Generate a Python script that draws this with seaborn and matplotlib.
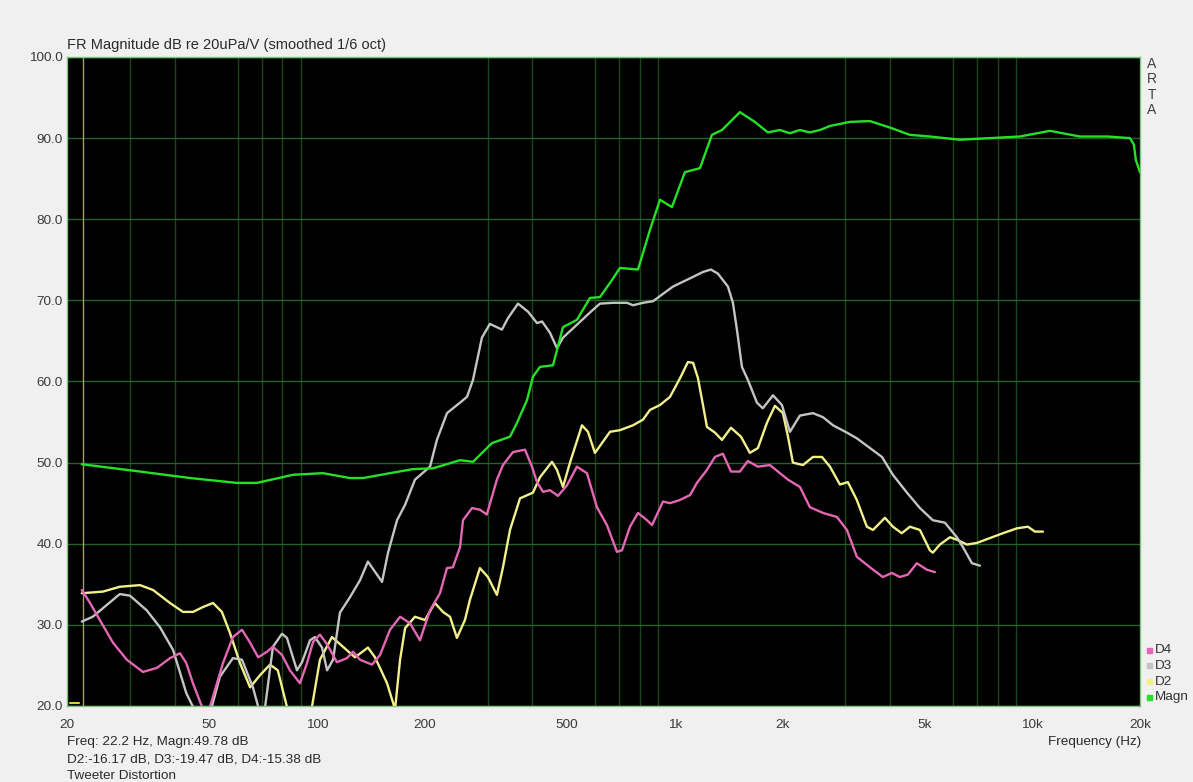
import pandas as pd
import matplotlib
matplotlib.use("Agg")
import matplotlib.pyplot as plt
import seaborn as sns
from matplotlib.ticker import FixedLocator, NullFormatter
from matplotlib.patches import Rectangle

sns.set_style("white")
plt.rcParams['font.family'] = ['Liberation Sans', 'DejaVu Sans']

# ---------------- measured curves (frequency in Hz, level in dB) ----------------
magn_hz = [22.0, 32.0, 44.2, 59.7, 67.9, 85.7, 103.9, 123.6, 134.7, 160.0,
           185.5, 211.0, 251.2, 273.0, 308.3, 346.4, 362.4, 386.5, 401.7, 420.2,
           456.9, 487.2, 533.0, 579.6, 618.1, 667.8, 703.1, 789.7, 853.2, 909.7,
           982.7, 1068, 1177, 1271, 1356, 1522, 1676, 1822, 1969, 2100,
           2240, 2389, 2548, 2718, 3089, 3515, 3999, 4548, 5169, 6274,
           7613, 9229, 11202, 13563, 16261, 18749, 19226, 19472, 20000]
magn_db = [49.8, 48.9, 48.1, 47.5, 47.5, 48.5, 48.7, 48.1, 48.1, 48.7,
           49.2, 49.3, 50.3, 50.1, 52.4, 53.2, 54.9, 57.7, 60.6, 61.8,
           62.0, 66.7, 67.6, 70.3, 70.4, 72.5, 74.0, 73.8, 78.7, 82.4,
           81.5, 85.8, 86.3, 90.4, 91.0, 93.2, 92.0, 90.7, 91.0, 90.6,
           91.0, 90.7, 91.0, 91.5, 92.0, 92.1, 91.3, 90.4, 90.2, 89.8,
           90.0, 90.2, 90.9, 90.2, 90.2, 90.0, 89.2, 87.3, 85.8]

d3_hz = [22.0, 23.6, 28.1, 30.0, 33.4, 36.4, 39.6, 43.1, 45.0, 47.7,
         50.8, 53.5, 58.2, 61.7, 66.2, 68.5, 70.3, 71.6, 75.3, 79.8,
         82.4, 87.9, 90.8, 95.6, 98.7, 103.3, 106.7, 110.9, 115.9, 123.6,
         131.9, 138.8, 152.0, 158.0, 167.4, 176.3, 187.9, 207.0, 216.4, 230.9,
         251.2, 262.6, 273.0, 289.1, 304.4, 328.9, 341.8, 364.7, 389.2, 412.2,
         425.9, 448.2, 468.8, 487.2, 533.0, 579.6, 618.1, 672.2, 735.8, 764.6,
         815.6, 870.1, 927.5, 989.1, 1055, 1126, 1200, 1263, 1321, 1409,
         1455, 1493, 1542, 1602, 1698, 1764, 1883, 1995, 2100, 2240,
         2436, 2598, 2772, 3031, 3230, 3515, 3798, 4075, 4461, 4850,
         5270, 5696, 6153, 6396, 6778, 7136]
d3_db = [30.4, 31.0, 33.8, 33.6, 31.8, 29.7, 26.9, 21.6, 19.9, 17.5,
         19.9, 23.6, 25.9, 25.7, 22.3, 19.9, 18.5, 19.9, 27.3, 28.9,
         28.4, 24.4, 25.4, 28.1, 28.5, 27.2, 24.4, 25.7, 31.5, 33.4,
         35.5, 37.8, 35.3, 38.9, 42.9, 44.8, 47.9, 49.5, 52.8, 56.1,
         57.4, 58.1, 60.2, 65.4, 67.1, 66.4, 67.8, 69.6, 68.6, 67.2,
         67.4, 66.0, 64.1, 65.4, 67.0, 68.5, 69.6, 69.7, 69.7, 69.4,
         69.7, 69.9, 70.8, 71.7, 72.3, 72.9, 73.5, 73.8, 73.3, 71.7,
         69.7, 66.4, 61.8, 60.2, 57.4, 56.7, 58.3, 57.1, 53.8, 55.8,
         56.1, 55.6, 54.6, 53.7, 53.0, 51.8, 50.7, 48.5, 46.3, 44.4,
         42.9, 42.6, 40.8, 39.6, 37.6, 37.3]

d2_hz = [22.0, 25.2, 28.1, 32.0, 34.8, 38.8, 42.2, 45.0, 48.0, 51.2,
         54.2, 57.1, 60.9, 65.0, 69.3, 73.9, 77.7, 82.4, 88.5, 96.8,
         101.9, 110.1, 118.2, 127.7, 138.8, 145.3, 157.0, 165.3, 170.7, 176.3,
         187.9, 200.4, 213.6, 224.9, 235.4, 246.2, 259.2, 267.7, 285.4, 300.5,
         318.4, 331.1, 346.4, 369.5, 401.7, 420.2, 453.9, 468.8, 487.2, 509.7,
         550.6, 572.2, 598.5, 626.1, 659.3, 703.1, 764.6, 815.6, 853.2, 909.7,
         970.1, 1035, 1089, 1126, 1162, 1200, 1231, 1296, 1356, 1437,
         1532, 1623, 1709, 1811, 1907, 2008, 2074, 2141, 2284, 2436,
         2581, 2718, 2897, 3050, 3230, 3446, 3585, 3872, 4075, 4314,
         4548, 4850, 5169, 5270, 5515, 5883, 6153, 6563, 6997, 7613,
         8275, 9057, 9720, 10169, 10706]
d2_db = [33.9, 34.1, 34.7, 34.9, 34.3, 32.7, 31.6, 31.6, 32.2, 32.7,
         31.6, 29.0, 25.3, 22.3, 23.8, 25.1, 24.4, 19.9, 16.5, 19.9,
         25.7, 28.5, 27.3, 26.0, 27.2, 26.0, 22.8, 19.6, 25.7, 29.6,
         31.0, 30.6, 32.7, 31.6, 31.0, 28.4, 30.6, 33.1, 37.0, 35.9,
         33.7, 37.1, 41.7, 45.6, 46.3, 48.2, 50.1, 49.1, 47.0, 50.0,
         54.6, 53.8, 51.2, 52.4, 53.8, 54.0, 54.6, 55.3, 56.5, 57.1,
         58.1, 60.4, 62.4, 62.3, 60.4, 57.1, 54.4, 53.7, 52.8, 54.3,
         53.2, 51.2, 51.8, 54.9, 57.0, 56.1, 53.2, 50.0, 49.7, 50.7,
         50.7, 49.5, 47.3, 47.6, 45.4, 42.1, 41.7, 43.2, 42.1, 41.3,
         42.1, 41.7, 39.2, 38.9, 39.9, 40.8, 40.5, 39.9, 40.1, 40.7,
         41.3, 41.9, 42.1, 41.5, 41.5]

d4_hz = [22.0, 23.2, 24.7, 26.9, 29.4, 32.6, 35.7, 38.8, 41.4, 43.1,
         45.0, 47.7, 48.9, 50.2, 54.6, 58.2, 61.7, 65.0, 68.5, 72.5,
         75.3, 79.8, 84.0, 89.6, 93.8, 97.5, 101.9, 106.7, 113.7, 121.3,
         126.1, 131.9, 142.5, 150.1, 160.0, 170.7, 182.0, 194.0, 207.0, 220.7,
         230.9, 239.9, 251.2, 256.0, 271.3, 285.4, 298.4, 318.4, 331.1, 353.1,
         381.5, 399.1, 412.2, 428.6, 448.2, 471.8, 499.9, 533.0, 568.5, 606.3,
         646.6, 689.7, 712.4, 750.1, 789.7, 836.9, 864.3, 927.5, 970.1, 1035,
         1104, 1154, 1231, 1296, 1364, 1437, 1522, 1602, 1709, 1847,
         1969, 2074, 2240, 2389, 2598, 2842, 3031, 3230, 3515, 3820,
         4048, 4262, 4489, 4754, 5071, 5341]
d4_db = [34.3, 32.7, 30.6, 27.8, 25.7, 24.2, 24.7, 25.9, 26.5, 25.3,
         22.8, 19.9, 18.5, 19.9, 25.3, 28.5, 29.4, 27.8, 26.0, 26.7,
         27.3, 26.3, 24.4, 22.8, 25.3, 27.9, 28.8, 27.6, 25.4, 25.9,
         26.7, 25.7, 25.1, 26.3, 29.4, 31.0, 30.2, 28.1, 31.8, 33.9,
         37.0, 37.1, 39.6, 42.9, 44.4, 44.2, 43.6, 47.9, 49.7, 51.3,
         51.6, 49.5, 47.6, 46.4, 46.6, 45.9, 47.2, 49.5, 48.7, 44.5,
         42.3, 39.0, 39.2, 42.1, 43.8, 42.9, 42.3, 45.2, 45.0, 45.4,
         46.0, 47.5, 49.1, 50.7, 51.1, 48.9, 48.9, 50.2, 49.5, 49.7,
         48.7, 47.9, 47.0, 44.5, 43.8, 43.3, 41.7, 38.4, 37.1, 35.9,
         36.4, 35.9, 36.2, 37.6, 36.8, 36.5]

curve_names = ["D4", "D3", "D2", "Magn"]
curve_colors = {"D4": "#e466b4", "D3": "#c4c4c4", "D2": "#f2f08a", "Magn": "#26e026"}

x_ticks = [20, 50, 100, 200, 500, 1000, 2000, 5000, 10000, 20000]
x_tick_labels = ["20", "50", "100", "200", "500", "1k", "2k", "5k", "10k", "20k"]
y_ticks = [20, 30, 40, 50, 60, 70, 80, 90, 100]
x_grid = [m * d for d in (10, 100, 1000, 10000) for m in range(1, 10)
          if 20 <= m * d <= 20000]

cursor_hz = 22.2
title = "FR Magnitude dB re 20uPa/V (smoothed 1/6 oct)"
info_lines = ["Freq: 22.2 Hz, Magn:49.78 dB",
              "D2:-16.17 dB, D3:-19.47 dB, D4:-15.38 dB",
              "Tweeter Distortion"]

# ---------------- long-form table ----------------
series = {"Magn": (magn_hz, magn_db), "D2": (d2_hz, d2_db),
          "D3": (d3_hz, d3_db), "D4": (d4_hz, d4_db)}
df = pd.concat([pd.DataFrame({"Hz": hz, "dB": db, "curve": name})
                for name, (hz, db) in series.items()], ignore_index=True)

# ---------------- figure ----------------
W, H = 1193, 782
fig = plt.figure(figsize=(W / 100, H / 100), dpi=100, facecolor="#f0f0f0")
ax = fig.add_axes([67 / W, 1 - 706 / H, (1140 - 67) / W, (706 - 57) / H])
ax.set_facecolor("black")

for name in ["D2", "D3", "D4", "Magn"]:
    sns.lineplot(data=df[df["curve"] == name], x="Hz", y="dB",
                 color=curve_colors[name], estimator=None, sort=False,
                 lw=1.7, ax=ax, legend=False, zorder=3)

ax.set_xscale("log")
ax.set_xlim(20, 20000)
ax.set_ylim(20, 100)

ax.set_xticks(x_ticks)
ax.set_xticklabels(x_tick_labels)
ax.xaxis.set_minor_locator(FixedLocator(x_grid))
ax.xaxis.set_minor_formatter(NullFormatter())
ax.set_yticks(y_ticks)
ax.set_yticklabels([f"{v:.1f}" for v in y_ticks])
ax.tick_params(which="both", length=0)
ax.tick_params(axis="x", pad=9, labelsize=9.7, labelcolor="#3a3a3a")
ax.tick_params(axis="y", pad=3, labelsize=9.7, labelcolor="#3a3a3a")
ax.set_xlabel("")
ax.set_ylabel("")

ax.set_axisbelow(True)
ax.grid(False)
ax.grid(which="minor", axis="x", color="#1a471a", lw=1.0)
ax.grid(which="major", axis="y", color="#25622a", lw=1.0)
for spine in ax.spines.values():
    spine.set_color("#7cc47c")
    spine.set_linewidth(1.0)

# cursor marker
ax.axvline(cursor_hz, color="#a8a82a", lw=1.0, zorder=2)
ax.plot([20.4, 21.6], [20.4, 20.4], color="#d8d040", lw=1.5, zorder=4)

# ---------------- texts ----------------
txt = "#2a2a2a"
fig.text(67 / W, 1 - 45 / H, title, ha="left", va="center", fontsize=10.5, color=txt)
for i, letter in enumerate("ARTA"):
    fig.text(1152 / W, 1 - (64 + 15.3 * i) / H, letter, ha="center",
             va="center", fontsize=10, color="#404040")

for i, name in enumerate(curve_names):
    yc = 650 + 15.8 * i
    fig.patches.append(Rectangle((1147 / W, 1 - (yc + 2.5) / H), 5 / W, 5 / H,
                                 transform=fig.transFigure,
                                 color=curve_colors[name]))
    fig.text(1155 / W, 1 - yc / H, name, ha="left", va="center",
             fontsize=9.7, color="#333333")

for i, line in enumerate(info_lines):
    fig.text(67 / W, 1 - (742 + 17 * i) / H, line, ha="left", va="center",
             fontsize=9.7, color=txt)
fig.text(1141 / W, 1 - 742 / H, "Frequency (Hz)", ha="right", va="center",
         fontsize=9.7, color=txt)

fig.savefig("out.png", dpi=100, facecolor=fig.get_facecolor())
